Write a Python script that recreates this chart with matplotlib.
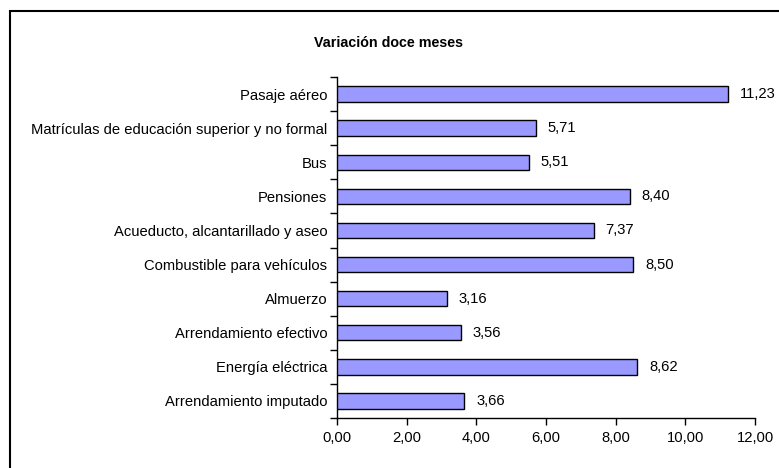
import matplotlib
matplotlib.use("Agg")
import matplotlib.pyplot as plt
from matplotlib.patches import Rectangle
import numpy as np

plt.rcParams['font.family'] = ['Liberation Sans', 'DejaVu Sans']

categories = [
    "Pasaje aéreo",
    "Matrículas de educación superior y no formal",
    "Bus",
    "Pensiones",
    "Acueducto, alcantarillado y aseo",
    "Combustible para vehículos",
    "Almuerzo",
    "Arrendamiento efectivo",
    "Energía eléctrica",
    "Arrendamiento imputado",
]
values = [11.23, 5.71, 5.51, 8.40, 7.37, 8.50, 3.16, 3.56, 8.62, 3.66]
xticks = [0, 2, 4, 6, 8, 10, 12]

W, H = 779, 468
FS = 10.6
fig = plt.figure(figsize=(W / 100, H / 100), dpi=100)
ax = fig.add_axes([337 / W, 1 - 418 / H, (755 - 337) / W, (418 - 77) / H])

n = len(categories)
y = np.arange(n)[::-1]
ax.barh(y, values, height=0.45, color='#9999FF', edgecolor='black', linewidth=1.0, zorder=3)
for yi, v in zip(y, values):
    ax.text(v + 0.34, yi, f"{v:.2f}".replace('.', ','), va='center', ha='left', fontsize=FS)

ax.set_xlim(0, 12)
ax.set_ylim(-0.5, n - 0.5)
ax.set_xticks(xticks)
ax.set_xticklabels([f"{t:.2f}".replace('.', ',') for t in xticks], fontsize=FS)
ax.set_yticks(y)
ax.set_yticklabels(categories, fontsize=FS)
ax.tick_params(axis='y', length=0, pad=7)
ax.set_yticks(np.arange(n + 1) - 0.5, minor=True)
ax.tick_params(axis='y', which='minor', length=5, width=1.0, direction='out')
ax.tick_params(axis='x', length=5, width=1.0, direction='out', pad=4)
for s in ['top', 'right']:
    ax.spines[s].set_visible(False)
for s in ['left', 'bottom']:
    ax.spines[s].set_linewidth(1.0)

fig.text(388 / W, 1 - 43 / H, "Variación doce meses", ha='center', va='center',
         fontsize=10.3, fontweight='bold')

# outer frame (clipped by figure edges)
fig.patches.append(Rectangle((9.5 / W, -0.1), 1.0, 1 - 11 / H + 0.1,
                             transform=fig.transFigure, fill=False,
                             edgecolor='black', linewidth=1.5))

fig.savefig("out.png", dpi=100)
